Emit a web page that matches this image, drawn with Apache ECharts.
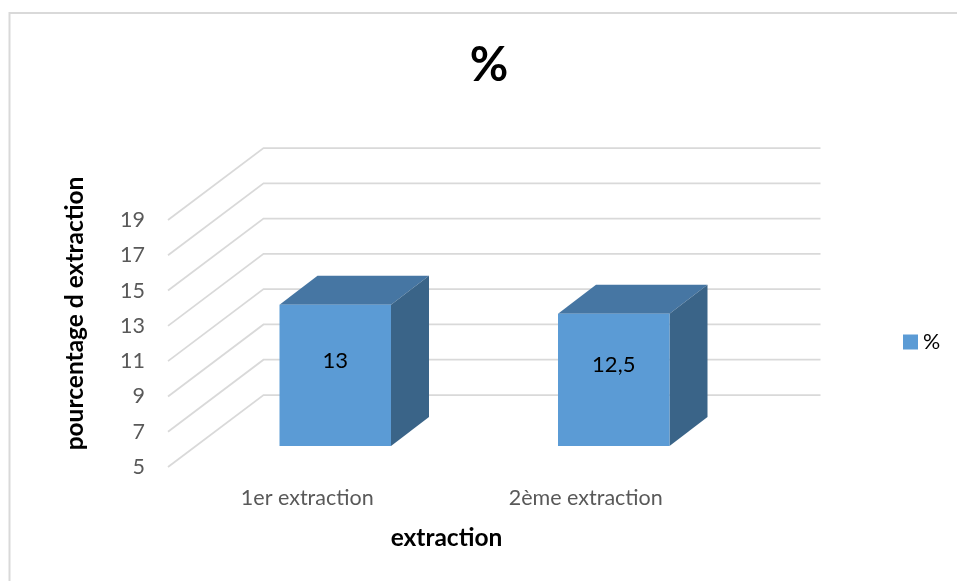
<!DOCTYPE html>
<html>
<head>
<meta charset="utf-8">
<style>html,body{margin:0;padding:0;background:#fff}#chart{width:957px;height:581px}</style>
<script src="https://cdn.jsdelivr.net/npm/echarts@6/dist/echarts.min.js"></script>
</head>
<body>
<div id="chart"></div>
<script>
// Extraction yield per extraction run
const categories = ['1er extraction', '2ème extraction'];
const yields = [13, 12.5];
const valueTicks = [5, 7, 9, 11, 13, 15, 17, 19];

const FONT = 'Lato, "Open Sans", sans-serif';
// Oblique projection of the chart box
const WALL_DX = 95.5, WALL_DY = -72;
const BAR_SHIFT_X = 28, BAR_SHIFT_Y = -21;
const BAR_W = 111.5, BAR_DX = 38, BAR_DY = -29;

function wallLine(params, api) {
  const v = api.value(0);
  const y = api.coord([0, v])[1];
  const x0 = params.coordSys.x;
  const x1 = x0 + params.coordSys.width;
  return {
    type: 'polyline',
    shape: { points: [[x0, y], [x0 + WALL_DX, y + WALL_DY], [x1 + WALL_DX, y + WALL_DY]] },
    style: { fill: null, stroke: '#d9d9d9', lineWidth: 1.75 }
  };
}

function box(params, api) {
  const idx = api.value(0);
  const v = api.value(1);
  const base = api.coord([idx, valueTicks[0]]);
  const top = api.coord([idx, v]);
  const l = base[0] + BAR_SHIFT_X - BAR_W / 2;
  const r = l + BAR_W;
  const yb = base[1] + BAR_SHIFT_Y;
  const yt = top[1] + BAR_SHIFT_Y;
  return {
    type: 'group',
    children: [
      { type: 'polygon',
        shape: { points: [[l, yt], [l + BAR_DX, yt + BAR_DY], [r + BAR_DX, yt + BAR_DY], [r, yt]] },
        style: { fill: '#4676a3' } },
      { type: 'polygon',
        shape: { points: [[r, yt], [r + BAR_DX, yt + BAR_DY], [r + BAR_DX, yb + BAR_DY], [r, yb]] },
        style: { fill: '#3a6488' } },
      { type: 'rect',
        shape: { x: l, y: yt, width: BAR_W, height: yb - yt },
        style: { fill: '#5b9bd5' } },
      { type: 'text',
        style: {
          x: (l + r) / 2, y: (yt + yb) / 2 + BAR_DY / 2,
          text: String(v).replace('.', ','),
          align: 'center', verticalAlign: 'middle',
          fill: '#000', font: '22px ' + FONT
        } }
    ]
  };
}

const chart = echarts.init(document.getElementById('chart'), null, { renderer: 'canvas' });
chart.setOption({
  animation: false,
  backgroundColor: '#fff',
  title: {
    text: '%', left: 484, top: 37, textAlign: 'center',
    textStyle: { fontFamily: FONT, fontSize: 47, fontWeight: 'bold', color: '#000' }
  },
  legend: {
    data: ['%'], left: 898, top: 326, itemWidth: 15, itemHeight: 15, itemGap: 8,
    icon: 'rect',
    textStyle: { fontFamily: FONT, fontSize: 21.5, color: '#000' }
  },
  grid: { left: 168, top: 220, width: 557, height: 247, outerBoundsMode: 'none' },
  xAxis: {
    type: 'category', data: categories,
    axisLine: { show: false }, axisTick: { show: false }, splitLine: { show: false },
    axisLabel: { margin: 20, fontFamily: FONT, fontSize: 21.5, color: '#595959' },
    name: 'extraction', nameLocation: 'middle', nameGap: 59,
    nameTextStyle: { fontFamily: FONT, fontSize: 24.5, fontWeight: 'bold', color: '#000' }
  },
  yAxis: {
    type: 'value', min: 5, max: 19,
    axisLine: { show: false }, axisTick: { show: false }, splitLine: { show: false },
    axisLabel: { customValues: valueTicks, margin: 23, fontFamily: FONT, fontSize: 21.5, color: '#595959' },
    name: 'pourcentage d extraction', nameLocation: 'middle', nameGap: 80,
    nameTextStyle: { fontFamily: FONT, fontSize: 24.5, fontWeight: 'bold', color: '#000', padding: [0, 0, 0, 60] }
  },
  series: [
    {
      type: 'custom', name: 'grille', z: 1, silent: true, clip: false,
      renderItem: wallLine,
      encode: { y: 0 },
      data: valueTicks.map(v => [v])
    },
    {
      type: 'custom', name: '%', z: 2, clip: false,
      itemStyle: { color: '#5b9bd5' },
      renderItem: box,
      encode: { x: 0, y: 1 },
      data: yields.map((v, i) => [i, v])
    }
  ],
  graphic: [
    { type: 'polyline', silent: true,
      shape: { points: [[9.5, 581], [9.5, 13], [957, 13]] },
      style: { fill: null, stroke: '#d9d9d9', lineWidth: 2 } }
  ]
});
</script>
</body>
</html>
